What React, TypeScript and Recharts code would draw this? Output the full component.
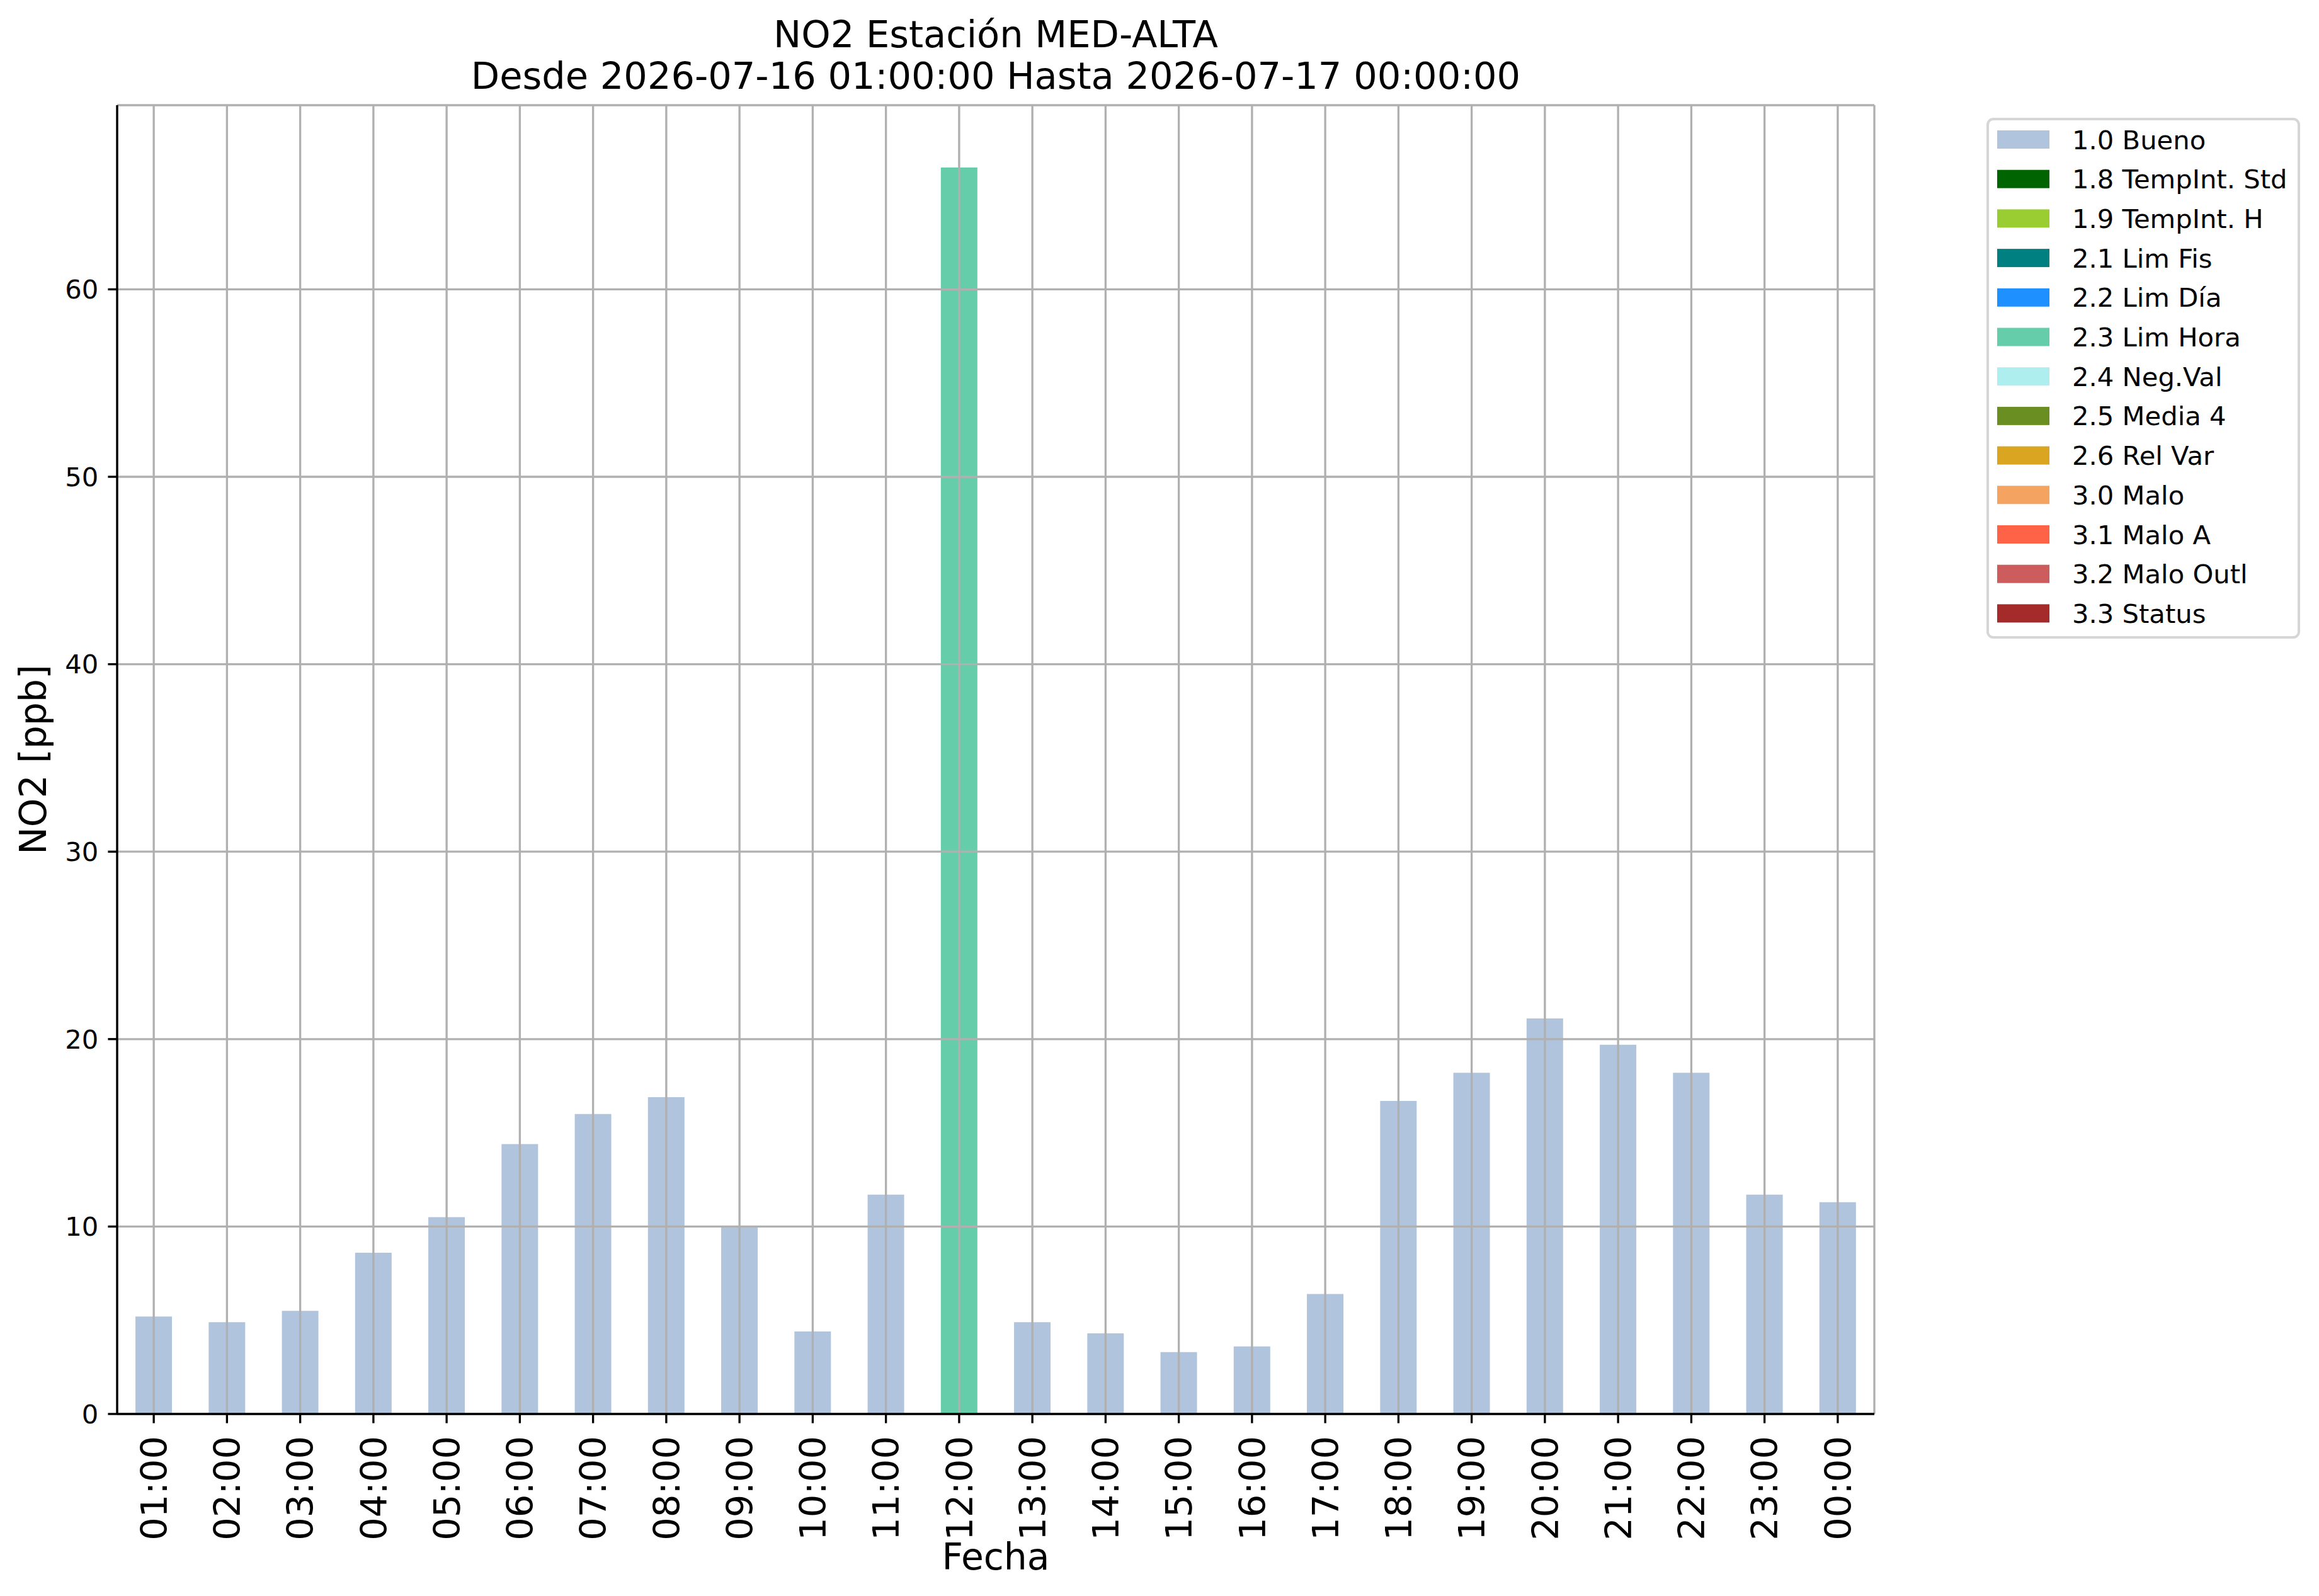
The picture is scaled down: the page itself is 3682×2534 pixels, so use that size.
import React from 'react';
import { BarChart, Bar, XAxis, YAxis, CartesianGrid, Legend } from 'recharts';

const hours = ['01:00', '02:00', '03:00', '04:00', '05:00', '06:00', '07:00', '08:00', '09:00', '10:00', '11:00', '12:00',
  '13:00', '14:00', '15:00', '16:00', '17:00', '18:00', '19:00', '20:00', '21:00', '22:00', '23:00', '00:00'];

const bueno = [5.2, 4.9, 5.5, 8.6, 10.5, 14.4, 16.0, 16.9, 10.0, 4.4, 11.7, null,
  4.9, 4.3, 3.3, 3.6, 6.4, 16.7, 18.2, 21.1, 19.7, 18.2, 11.7, 11.3];

const limHora = [null, null, null, null, null, null, null, null, null, null, null, 66.5,
  null, null, null, null, null, null, null, null, null, null, null, null];

const noData = [null, null, null, null, null, null, null, null, null, null, null, null,
  null, null, null, null, null, null, null, null, null, null, null, null];

const flagNames = ['1.0 Bueno', '1.8 TempInt. Std', '1.9 TempInt. H', '2.1 Lim Fis', '2.2 Lim Día', '2.3 Lim Hora',
  '2.4 Neg.Val', '2.5 Media 4', '2.6 Rel Var', '3.0 Malo', '3.1 Malo A', '3.2 Malo Outl', '3.3 Status'];

const flagColors = ['#b0c4de', '#006400', '#9acd32', '#008080', '#1e90ff', '#66cdaa',
  '#afeeee', '#6b8e23', '#daa520', '#f4a460', '#ff6347', '#cd5c5c', '#a52a2a'];

const flagValues = [bueno, noData, noData, noData, noData, limHora, noData, noData, noData, noData, noData, noData, noData];

const yTicks = [0, 10, 20, 30, 40, 50, 60];
const yMax = 69.825;

const titleLine1 = 'NO2 Estación MED-ALTA';
const titleLine2 = 'Desde 2026-07-16 01:00:00 Hasta 2026-07-17 00:00:00';
const xLabel = 'Fecha';
const yLabel = 'NO2 [ppb]';

const data = hours.map((h, i) => {
  const row: Record<string, any> = { hour: h };
  flagValues.forEach((vals, k) => {
    row['f' + k] = vals[i];
  });
  return row;
});

const FONT = 'DejaVu Sans';

const XTick = (props: any) => {
  const { x, payload } = props;
  return (
    <g transform={`translate(${x},${2280})`}>
      <text
        x={0}
        y={0}
        transform="rotate(-90)"
        textAnchor="end"
        dy="0.36em"
        fontSize={57.5}
        fontFamily={FONT}
        fill="#000"
      >
        {payload.value}
      </text>
    </g>
  );
};

const LegendBox = (props: any) => {
  const payload = props.payload || [];
  const rowH = 62.7;
  const w = 498;
  const h = 827;
  return (
    <svg width={w} height={h} style={{ display: 'block' }}>
      <rect x={2} y={2} width={w - 4} height={h - 4} rx={9} ry={9} fill="#fff" stroke="#d6d6d6" strokeWidth={4} />
      {payload.map((p: any, i: number) => (
        <g key={i}>
          <rect x={17} y={20 + i * rowH} width={83} height={29} fill={p.color} />
          <text x={136} y={20 + i * rowH + 29.5} fontSize={41.7} fontFamily={FONT} fill="#000">
            {p.value}
          </text>
        </g>
      ))}
    </svg>
  );
};

export default function App() {
  return (
    <div style={{ position: 'absolute', left: 0, top: 0, width: 3682, height: 2534, background: '#fff' }}>
      <BarChart
        width={3682}
        height={2534}
        data={data}
        margin={{ top: 167, right: 706, bottom: 0, left: 0 }}
        barCategoryGap="25%"
      >
        <XAxis
          dataKey="hour"
          height={289}
          interval={0}
          tickSize={14.6}
          tickMargin={14}
          tick={<XTick />}
          tickLine={{ stroke: '#000', strokeWidth: 3.33 }}
          axisLine={{ stroke: '#000', strokeWidth: 3.33 }}
        />
        <XAxis
          xAxisId="top"
          dataKey="hour"
          orientation="top"
          height={0}
          tick={false}
          tickLine={false}
          axisLine={{ stroke: '#000', strokeWidth: 3.33 }}
        />
        <YAxis
          width={186}
          domain={[0, yMax]}
          ticks={yTicks}
          type="number"
          allowDataOverflow
          tickSize={14.6}
          tickMargin={15}
          tick={{ fontSize: 41.7, fill: '#000', fontFamily: FONT }}
          tickLine={{ stroke: '#000', strokeWidth: 3.33 }}
          axisLine={{ stroke: '#000', strokeWidth: 3.33 }}
        />
        <YAxis
          yAxisId="right"
          orientation="right"
          width={0}
          domain={[0, yMax]}
          type="number"
          tick={false}
          tickLine={false}
          axisLine={{ stroke: '#000', strokeWidth: 3.33 }}
        />
        {flagNames.map((n, k) => (
          <Bar key={n} dataKey={'f' + k} name={n} stackId="a" fill={flagColors[k]} isAnimationActive={false} />
        ))}
        <CartesianGrid stroke="#b0b0b0" strokeWidth={3.33} zIndex={400} />
        <Legend
          layout="horizontal"
          verticalAlign="middle"
          align="center"
          content={<LegendBox />}
          wrapperStyle={{ position: 'absolute', left: 3154, top: 187, width: 498, height: 827 }}
        />
      </BarChart>
      <svg
        width={3682}
        height={2534}
        style={{ position: 'absolute', left: 0, top: 0, pointerEvents: 'none' }}
      >
        <text x={1581} y={75} textAnchor="middle" fontSize={59} fontFamily={FONT} fill="#000">{titleLine1}</text>
        <text x={1581} y={141} textAnchor="middle" fontSize={59} fontFamily={FONT} fill="#000">{titleLine2}</text>
        <text x={1581} y={2492} textAnchor="middle" fontSize={58.3} fontFamily={FONT} fill="#000">{xLabel}</text>
        <text
          x={0}
          y={0}
          transform="translate(73,1206) rotate(-90)"
          textAnchor="middle"
          fontSize={58.3}
          fontFamily={FONT}
          fill="#000"
        >
          {yLabel}
        </text>
      </svg>
    </div>
  );
}
